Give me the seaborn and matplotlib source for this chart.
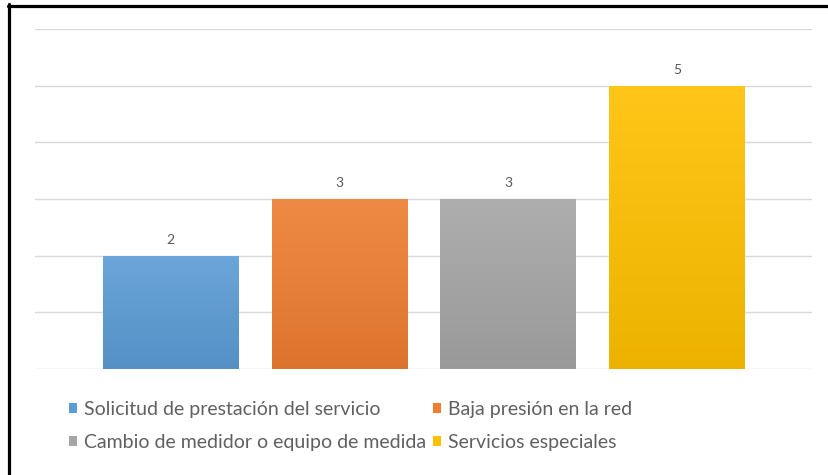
import numpy as np
import pandas as pd
import seaborn as sns
import matplotlib
matplotlib.use("Agg")
import matplotlib.pyplot as plt
from matplotlib.patches import Patch
from matplotlib.lines import Line2D
from matplotlib.colors import LinearSegmentedColormap, to_rgb

# Data
categories = [
    "Solicitud de prestación del servicio",
    "Baja presión en la red",
    "Cambio de medidor o equipo de medida",
    "Servicios especiales",
]
values = [2, 3, 3, 5]
colors = ["#5B9BD5", "#ED7D31", "#A5A5A5", "#FFC000"]

df = pd.DataFrame({"categoria": categories, "valor": values})

sns.set_theme(style="white")
plt.rcParams["font.family"] = ["Lato", "DejaVu Sans"]

fig = plt.figure(figsize=(8.29, 4.75), dpi=100)
ax = fig.add_axes([35 / 829, 1 - 369 / 475, (812 - 35) / 829, (369 - 29) / 475])

sns.barplot(data=df, x="categoria", y="valor", hue="categoria",
            palette=colors, width=0.805, legend=False, ax=ax,
            edgecolor="none", linewidth=0)

ax.set_xlim(-0.805, 3.80)
ax.set_ylim(0, 6)

# Horizontal gridlines
for yv in range(0, 7):
    ax.axhline(yv, color="#D9D9D9", lw=1.0, zorder=0)

# Vertical gradient fill for each bar (lighter at top, darker at bottom)
def shade(c, f):
    r, g, b = to_rgb(c)
    if f >= 0:
        return (r + (1 - r) * f, g + (1 - g) * f, b + (1 - b) * f)
    return (r * (1 + f), g * (1 + f), b * (1 + f))

for patch, col in zip(ax.patches, colors):
    x0, y0 = patch.get_x(), patch.get_y()
    w, h = patch.get_width(), patch.get_height()
    cmap = LinearSegmentedColormap.from_list("g", [shade(col, -0.07), shade(col, 0.1)])
    grad = np.linspace(0, 1, 256).reshape(-1, 1)
    im = ax.imshow(grad, cmap=cmap, origin="lower", aspect="auto",
                   extent=(x0, x0 + w, y0, y0 + h), zorder=2)
    im.set_clip_path(patch)

for cont in ax.containers:
    ax.bar_label(cont, padding=7, fontsize=10, color="#595959")

ax.set_xlabel("")
ax.set_ylabel("")
ax.set_xticks([])
ax.set_yticks([])
for s in ax.spines.values():
    s.set_visible(False)

# Legend in two rows below the plot
handles = [Patch(facecolor=c, edgecolor="none") for c in colors]
order = [0, 2, 1, 3]
fig.legend([handles[i] for i in order], [categories[i] for i in order],
           loc="upper left", bbox_to_anchor=(69 / 829, 1 - 401 / 475),
           ncol=2, frameon=False, fontsize=14, labelcolor="#606060",
           handlelength=0.42, handleheight=0.42, handletextpad=0.36,
           labelspacing=0.82, columnspacing=0.35, borderpad=0, borderaxespad=0)

# Frame lines on the top and left edges
fig.add_artist(Line2D([8 / 829, 1], [1 - 5.5 / 475] * 2, color="black", lw=2.3,
                      transform=fig.transFigure))
fig.add_artist(Line2D([9.5 / 829] * 2, [0, 1 - 4 / 475], color="black", lw=2.3,
                      transform=fig.transFigure))

fig.savefig("out.png", dpi=100, facecolor="white")
